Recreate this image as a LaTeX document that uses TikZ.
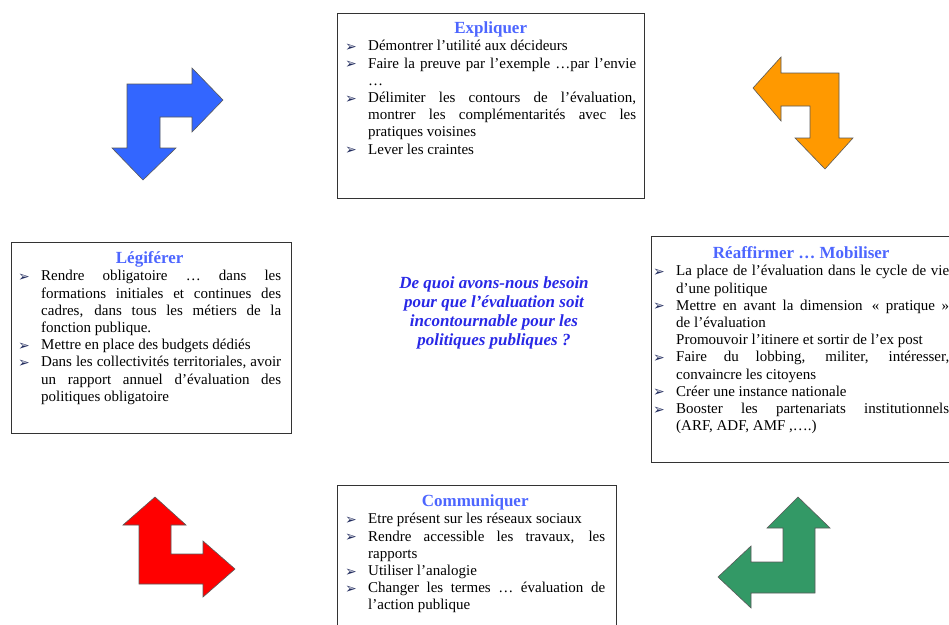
\documentclass[tikz,border=0pt]{standalone}
\usepackage{fontspec}
\setmainfont{Liberation Serif}
\newfontfamily\dejavu{DejaVu Sans}
\definecolor{ttlcol}{RGB}{77,102,255}
\definecolor{qcol}{RGB}{40,40,230}
\definecolor{bulcol}{RGB}{35,45,95}
\definecolor{arblue}{RGB}{51,102,255}
\definecolor{arorange}{RGB}{255,153,0}
\definecolor{arred}{RGB}{255,0,0}
\definecolor{argreen}{RGB}{51,153,102}
\newcommand\bodyfnt{\fontsize{15}{17.2}\selectfont}
\newcommand\bul{{\dejavu\fontsize{14}{10}\selectfont\color{bulcol}\raisebox{-0.5pt}{➢}}}
\newcommand\ttl[1]{{\centering\fontsize{17}{17.2}\selectfont\bfseries\color{ttlcol}\rule{0pt}{13pt}#1\par}}
\newcommand\itm[1]{\par\noindent\hangindent=23pt\hangafter=1\makebox[23pt][l]{\bul}#1\par}
\newcommand\sub[1]{\par\noindent\hspace*{23pt}#1\par}
\tikzset{
  box/.style={draw=black!80, line width=0.9pt, rectangle, inner sep=0pt, anchor=north west},
  txt/.style={inner sep=0pt, anchor=north west, align=justify, execute at begin node={\bodyfnt\tolerance=10000\hbadness=10000\pretolerance=-1\parindent=0pt}},
  bent/.style={draw=black!65, line width=0.6pt, line join=miter},
}
\begin{document}
\begin{tikzpicture}[x=1pt,y=-1pt]
\useasboundingbox (0,0) rectangle (949,624);
% boxes
\node[box, minimum width=307pt, minimum height=185pt] (exbox) at (337,13) {};
\node[box, minimum width=280pt, minimum height=191pt] (lgbox) at (11,242) {};
\node[box, minimum width=312pt, minimum height=226pt] (rabox) at (651,236) {};
\node[box, minimum width=279pt, minimum height=160pt] (cobox) at (337,485) {};
% texts
\node[txt, text width=291pt] (ext) at (345,20.5) {%
\ttl{Expliquer}%
\itm{Démontrer l’utilité aux décideurs}%
\itm{Faire la preuve par l’exemple …par l’envie\linebreak …}%
\itm{Délimiter les contours de l’évaluation,\linebreak montrer les complémentarités avec les\linebreak pratiques voisines}%
\itm{Lever les craintes}%
};
\node[txt, text width=263pt] (lgt) at (18,250.5) {%
\ttl{Légiférer}%
\itm{Rendre obligatoire … dans les\linebreak formations initiales et continues des\linebreak cadres, dans tous les métiers de la\linebreak fonction publique.}%
\itm{Mettre en place des budgets dédiés}%
\itm{Dans les collectivités territoriales, avoir\linebreak un rapport annuel d’évaluation des\linebreak politiques obligatoire}%
};
\node[txt, text width=296pt] (rat) at (653,245.5) {%
\ttl{Réaffirmer … Mobiliser}%
\itm{La place de l’évaluation dans le cycle de vie\linebreak d’une politique}%
\itm{Mettre en avant la dimension \,« pratique »\linebreak de l’évaluation}%
\sub{Promouvoir l’itinere et sortir de l’ex post}%
\itm{Faire du lobbing, militer, intéresser,\linebreak convaincre les citoyens}%
\itm{Créer une instance nationale}%
\itm{Booster les partenariats institutionnels\linebreak (ARF, ADF, AMF ,….)}%
};
\node[txt, text width=260pt] (cot) at (345,493.5) {%
\ttl{Communiquer}%
\itm{Etre présent sur les réseaux sociaux}%
\itm{Rendre accessible les travaux, les\linebreak rapports}%
\itm{Utiliser l’analogie}%
\itm{Changer les termes … évaluation de\linebreak l’action publique}%
};
% central question
\node[align=center, inner sep=0pt, text=qcol, font=\fontsize{17}{19}\selectfont\bfseries\itshape] (q) at (494,313) {De quoi avons-nous besoin\\pour que l’évaluation soit\\incontournable pour les\\politiques publiques ?};
% bent arrows
\draw[bent, fill=arblue] (127,84) -- (192,84) -- (192,68) -- (223,100) -- (192,132) -- (192,117) -- (160,117) -- (160,148) -- (176,148) -- (143,180) -- (112,148) -- (127,148) -- cycle;
\draw[bent, fill=arorange] (753,88) -- (781,57) -- (781,73) -- (839,73) -- (839,138) -- (853,138) -- (825,169) -- (795,138) -- (810,138) -- (810,106) -- (781,106) -- (781,121) -- cycle;
\draw[bent, fill=arred] (155,497) -- (186,525) -- (171,525) -- (171,554) -- (203,554) -- (203,541) -- (235,569) -- (203,597) -- (203,584) -- (139,584) -- (139,525) -- (123,525) -- cycle;
\draw[bent, fill=argreen] (798,497) -- (830,528) -- (815,528) -- (815,593) -- (751,593) -- (751,608) -- (718,577) -- (751,546) -- (751,562) -- (783,562) -- (783,528) -- (767,528) -- cycle;
\end{tikzpicture}
\end{document}
